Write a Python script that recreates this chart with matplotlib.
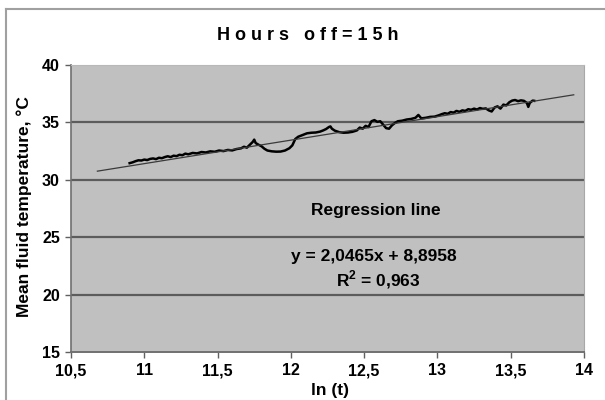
import matplotlib
matplotlib.use("Agg")
from matplotlib import pyplot as plt
from matplotlib.lines import Line2D

plt.rcParams["font.family"] = ["Liberation Sans", "DejaVu Sans"]
plt.rcParams["font.weight"] = "bold"
plt.rcParams["mathtext.fontset"] = "custom"
plt.rcParams["mathtext.bf"] = "Liberation Sans:bold"
plt.rcParams["mathtext.rm"] = "Liberation Sans:bold"

ln_t = [
    10.90, 10.92, 10.94, 10.96, 10.98, 11.00, 11.02, 11.04, 11.06, 11.08,
    11.10, 11.12, 11.14, 11.16, 11.18, 11.20, 11.22, 11.24, 11.26, 11.28,
    11.30, 11.33, 11.36, 11.39, 11.42, 11.45, 11.48, 11.51, 11.54, 11.57,
    11.60, 11.63, 11.66, 11.68, 11.70, 11.72, 11.74, 11.75, 11.76, 11.78,
    11.80, 11.82, 11.84, 11.87, 11.90, 11.93, 11.96, 11.99, 12.01, 12.03,
    12.05, 12.08, 12.11, 12.14, 12.17, 12.20, 12.22, 12.24, 12.26, 12.27,
    12.28, 12.30, 12.33, 12.36, 12.39, 12.42, 12.45, 12.47, 12.49, 12.51,
    12.53, 12.55, 12.57, 12.59, 12.61, 12.63, 12.65, 12.67, 12.69, 12.71,
    12.73, 12.76, 12.79, 12.82, 12.85, 12.87, 12.89, 12.92, 12.95, 12.98,
    13.01, 13.03, 13.05, 13.07, 13.09, 13.11, 13.13, 13.15, 13.17, 13.19,
    13.21, 13.23, 13.25, 13.27, 13.29, 13.31, 13.33, 13.35, 13.37, 13.39,
    13.41, 13.43, 13.45, 13.47, 13.49, 13.51, 13.53, 13.55, 13.57, 13.59,
    13.61, 13.62, 13.63, 13.65, 13.66,
]
temp = [
    31.45, 31.52, 31.62, 31.70, 31.68, 31.76, 31.72, 31.82, 31.86, 31.80,
    31.92, 31.88, 31.98, 32.05, 31.98, 32.10, 32.06, 32.18, 32.14, 32.28,
    32.22, 32.34, 32.30, 32.42, 32.38, 32.48, 32.44, 32.55, 32.50, 32.60,
    32.56, 32.68, 32.74, 32.88, 32.80, 33.05, 33.30, 33.50, 33.20, 33.05,
    32.92, 32.70, 32.55, 32.48, 32.45, 32.46, 32.55, 32.75, 33.00, 33.55,
    33.75, 33.90, 34.05, 34.10, 34.12, 34.20, 34.30, 34.42, 34.60, 34.65,
    34.45, 34.28, 34.15, 34.10, 34.12, 34.18, 34.30, 34.55, 34.45, 34.70,
    34.60, 35.10, 35.20, 35.05, 35.10, 34.80, 34.50, 34.45, 34.75, 34.95,
    35.10, 35.15, 35.25, 35.30, 35.40, 35.65, 35.35, 35.40, 35.48, 35.50,
    35.62, 35.72, 35.80, 35.75, 35.90, 35.85, 36.00, 35.92, 36.05, 36.00,
    36.15, 36.10, 36.20, 36.12, 36.25, 36.18, 36.22, 36.05, 35.95, 36.30,
    36.40, 36.20, 36.55, 36.48, 36.75, 36.90, 36.95, 36.85, 36.92, 36.88,
    36.70, 36.35, 36.70, 36.90, 36.88,
]

# regression line y = a*x + b, drawn between these ln(t) values
slope = 2.0465
intercept = 8.8958
reg_x = [10.68, 13.93]

x_ticks = [10.5, 11, 11.5, 12, 12.5, 13, 13.5, 14]
x_tick_labels = ["10,5", "11", "11,5", "12", "12,5", "13", "13,5", "14"]
y_ticks = [15, 20, 25, 30, 35, 40]

fig = plt.figure(figsize=(6.05, 4.0), dpi=100)
ax = fig.add_axes([71 / 605, 48 / 400, 513 / 605, 287 / 400])
ax.set_facecolor("#c0c0c0")

for y in y_ticks[1:-1]:
    ax.axhline(y, color="#5c5c5c", lw=1.6, zorder=1)

reg_y = [slope * x + intercept for x in reg_x]
ax.plot(reg_x, reg_y, color="#3a3a3a", lw=0.9, zorder=3)
ax.plot(ln_t, temp, color="black", lw=1.8, zorder=2)

ax.set_xlim(10.5, 14)
ax.set_ylim(15, 40)
ax.set_xticks(x_ticks)
ax.set_xticklabels(x_tick_labels)
ax.set_yticks(y_ticks)
ax.tick_params(direction="out", length=4, width=1, color="#606060",
               labelsize=11.5, pad=4)

ax.spines["left"].set_color("#707070")
ax.spines["bottom"].set_color("#707070")
ax.spines["left"].set_linewidth(1.2)
ax.spines["bottom"].set_linewidth(1.4)
ax.spines["right"].set_color("#a8a8a8")
ax.spines["top"].set_color("#b8b8b8")

ax.text(376 / 605, 190 / 400, "Regression line", transform=fig.transFigure,
        ha="center", va="center", fontsize=12.5, fontweight="bold")
ax.text(374 / 605, 143 / 400, "y = 2,0465x + 8,8958", transform=fig.transFigure,
        ha="center", va="center", fontsize=12.5, fontweight="bold")
ax.text(378 / 605, 120 / 400, "R$^{2}$ = 0,963", transform=fig.transFigure,
        ha="center", va="center", fontsize=12.5, fontweight="bold")

fig.text(308 / 605, 1 - 35 / 400, "H o u r s   o f f = 1 5 h", ha="center",
         va="center", fontsize=13, fontweight="bold")
fig.text(330 / 605, 10 / 400, "ln (t)", ha="center", va="center",
         fontsize=12.5, fontweight="bold")
fig.text(24 / 605, 1 - 207 / 400, "Mean fluid temperature, °C", ha="center",
         va="center", rotation=90, fontsize=12.5, fontweight="bold")

# outer chart frame (left and top edges visible)
fig.add_artist(Line2D([6 / 605, 6 / 605], [0, 1 - 9 / 400],
                      transform=fig.transFigure, color="#a0a0a0", lw=1.5))
fig.add_artist(Line2D([6 / 605, 1], [1 - 9 / 400, 1 - 9 / 400],
                      transform=fig.transFigure, color="#a0a0a0", lw=1.5))

plt.savefig("out.png", dpi=100)
plt.close()
